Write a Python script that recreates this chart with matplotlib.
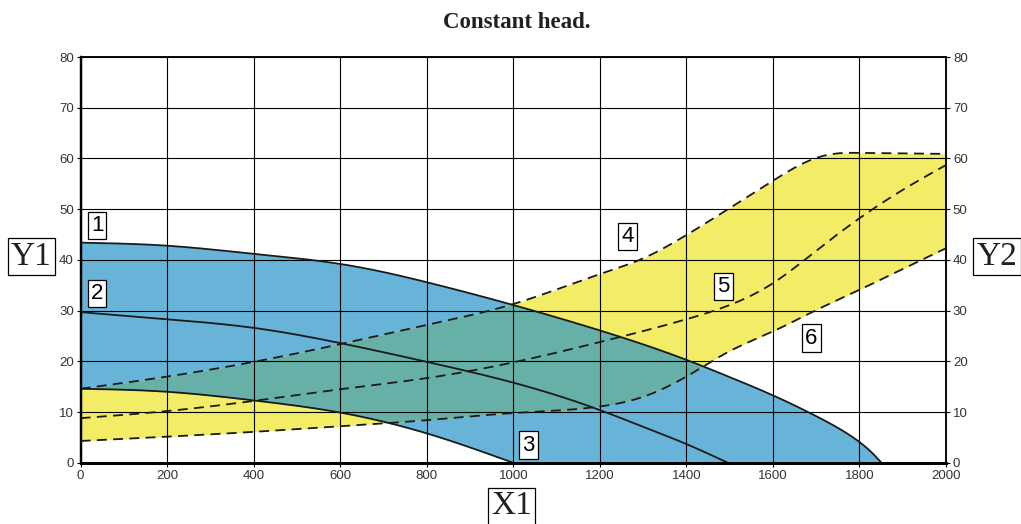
import numpy as np
import matplotlib
matplotlib.use("Agg")
import matplotlib.pyplot as plt

# ---- data ----
curve1_x = [0, 200, 400, 600, 700, 800, 1000, 1200, 1400, 1500, 1600, 1700, 1750, 1800, 1830, 1851]
curve1_y = [43.4, 42.8, 41.2, 39.2, 37.6, 35.6, 31.1, 26.1, 20.3, 16.9, 13.3, 9.2, 6.9, 4.1, 1.9, 0]
curve2_x = [0, 200, 400, 600, 800, 1000, 1200, 1300, 1400, 1496]
curve2_y = [29.7, 28.3, 26.6, 23.6, 19.9, 15.8, 10.4, 7.1, 3.7, 0]
curve3_x = [0, 200, 400, 600, 800, 1000]
curve3_y = [14.6, 14.0, 12.3, 9.9, 5.8, 0]

line4_x = [0, 200, 400, 600, 800, 1000, 1200, 1300, 1400, 1500, 1600, 1700, 1750, 1800, 2000]
line4_y = [14.6, 17.0, 19.9, 23.4, 27.2, 31.3, 37.2, 40.3, 44.9, 50.2, 55.6, 60.1, 61.0, 61.1, 60.9]
line5_x = [0, 200, 400, 600, 800, 1000, 1200, 1400, 1500, 1600, 1700, 1800, 1900, 2000]
line5_y = [8.8, 10.2, 12.2, 14.5, 16.7, 19.8, 23.8, 28.3, 31.1, 35.4, 41.8, 48.2, 53.8, 58.7]
line6_x = [0, 200, 400, 600, 800, 1000, 1200, 1300, 1400, 1500, 1600, 1700, 1800, 1900, 2000]
line6_y = [4.3, 5.15, 6.1, 7.2, 8.4, 9.8, 11.1, 13.0, 17.0, 22.0, 25.9, 30.1, 34.1, 38.2, 42.3]

labels = ["1", "2", "3", "4", "5", "6"]
label_x = [38, 38, 1035, 1264, 1486, 1689]
label_y = [46.8, 33.4, 3.5, 44.6, 34.7, 24.6]

x_ticks = list(range(0, 2001, 200))
y_ticks = list(range(0, 81, 10))

title = "Constant head."

BLUE = "#68b4d8"
YELLOW = "#f2ec66"
TEAL = "#66b0a8"


def spline(x, y, xn):
    """Natural cubic spline through the read points (for smooth drawing)."""
    x = np.asarray(x, float); y = np.asarray(y, float); xn = np.asarray(xn, float)
    n = len(x)
    h = np.diff(x)
    A = np.zeros((n, n)); b = np.zeros(n)
    A[0, 0] = 1; A[-1, -1] = 1
    for i in range(1, n - 1):
        A[i, i - 1] = h[i - 1]
        A[i, i] = 2 * (h[i - 1] + h[i])
        A[i, i + 1] = h[i]
        b[i] = 6 * ((y[i + 1] - y[i]) / h[i] - (y[i] - y[i - 1]) / h[i - 1])
    M = np.linalg.solve(A, b)
    idx = np.clip(np.searchsorted(x, xn) - 1, 0, n - 2)
    x0 = x[idx]; x1 = x[idx + 1]; hh = h[idx]
    return (M[idx] * (x1 - xn) ** 3 / (6 * hh) + M[idx + 1] * (xn - x0) ** 3 / (6 * hh)
            + (y[idx] / hh - M[idx] * hh / 6) * (x1 - xn)
            + (y[idx + 1] / hh - M[idx + 1] * hh / 6) * (xn - x0))


fig = plt.figure(figsize=(10.21, 5.24), dpi=100)
ax = fig.add_axes([0.0790, 0.1168, 0.8475, 0.7744])

xs = np.linspace(0, 2000, 2001)
blue_mask = xs <= curve1_x[-1]
c1 = np.where(blue_mask, spline(curve1_x, curve1_y, np.minimum(xs, curve1_x[-1])), 0)
c2x = np.linspace(0, curve2_x[-1], 800)
c2 = spline(curve2_x, curve2_y, c2x)
c3x = np.linspace(0, curve3_x[-1], 600)
c3 = spline(curve3_x, curve3_y, c3x)
l4 = spline(line4_x, line4_y, xs)
l5 = spline(line5_x, line5_y, xs)
l6 = spline(line6_x, line6_y, xs)
blue_lo = np.where(xs <= curve3_x[-1],
                   spline(curve3_x, curve3_y, np.minimum(xs, curve3_x[-1])), 0)

ax.fill_between(xs, blue_lo, c1, where=blue_mask & (c1 > blue_lo), color=BLUE, lw=0, zorder=1)
ax.fill_between(xs, l6, l4, color=YELLOW, lw=0, zorder=1.1)
lo = np.maximum(blue_lo, l6)
hi = np.minimum(c1, l4)
ax.fill_between(xs, lo, hi, where=blue_mask & (hi > lo), color=TEAL, lw=0, zorder=1.2)

ax.plot(xs[blue_mask], c1[blue_mask], color="#1a1a1a", lw=1.3, zorder=3)
ax.plot(c2x, c2, color="#1a1a1a", lw=1.3, zorder=3)
ax.plot(c3x, c3, color="#1a1a1a", lw=1.3, zorder=3)

ax.set_xlim(0, 2000)
ax.set_ylim(0, 80)
ax.set_xticks(x_ticks)
ax.set_yticks(y_ticks)
ax.grid(True, color="black", lw=0.8)
ax.set_axisbelow(False)

ax2 = ax.twinx()
ax2.set_ylim(0, 80)
ax2.set_yticks(y_ticks)
for yy in (l4, l5, l6):
    ax2.plot(xs, yy, color="#1a1a1a", lw=1.3, ls=(0, (5.5, 3.5)), zorder=3)

for a in (ax, ax2):
    a.tick_params(labelsize=9.5, labelcolor="#333333", length=3, width=0.8, pad=2,
                  labelfontfamily="Liberation Sans")
    a.spines["left"].set_linewidth(1.6)
    a.spines["bottom"].set_linewidth(2.0)
    a.spines["top"].set_linewidth(1.1)
    a.spines["right"].set_linewidth(1.1)

for t, lx, ly in zip(labels, label_x, label_y):
    ax.text(lx, ly, t, ha="center", va="center", fontsize=16, family="Liberation Sans",
            zorder=5, bbox=dict(boxstyle="square,pad=0.14", fc="white", ec="black", lw=0.9))

fig.text(0.5057, 0.958, title, ha="center", va="center", fontsize=16.5,
         family="Liberation Serif", fontweight="bold", color="#231f20")

box = dict(boxstyle="square,pad=0.1", fc="white", ec="black", lw=0.9)
fig.text(0.0307, 0.5109, "Y1", ha="center", va="center", fontsize=24,
         family="Liberation Serif", color="#231f20", bbox=box)
fig.text(0.9765, 0.5109, "Y2", ha="center", va="center", fontsize=24,
         family="Liberation Serif", color="#231f20", bbox=box)
fig.text(0.5012, 0.034, "X1", ha="center", va="center", fontsize=24,
         family="Liberation Serif", color="#231f20", bbox=box)

fig.savefig("out.png", dpi=100)
